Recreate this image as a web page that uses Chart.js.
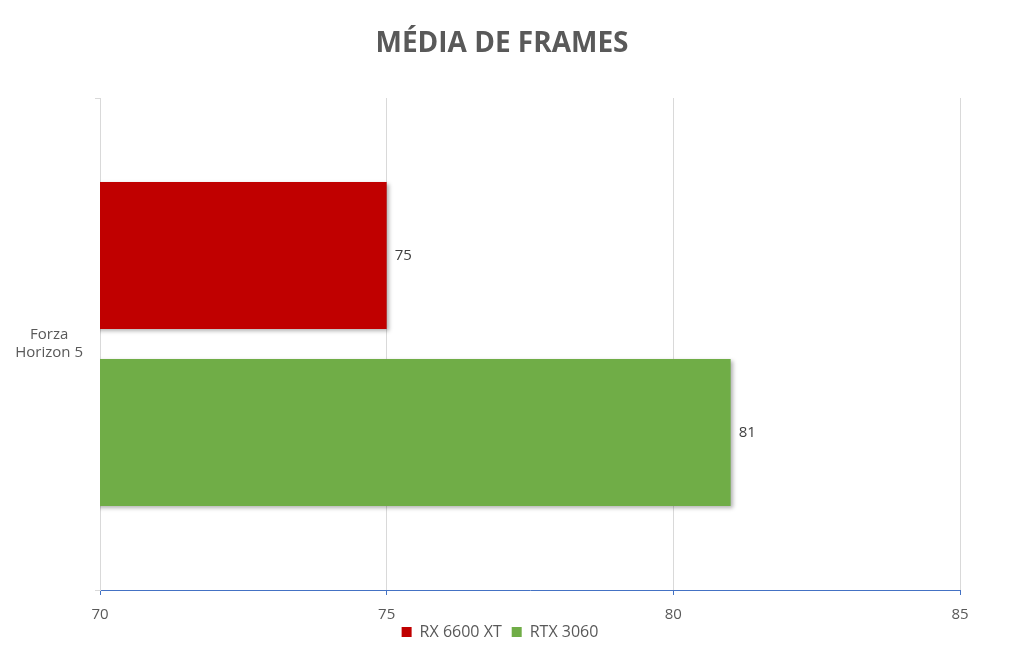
<!DOCTYPE html>
<html>
<head>
<meta charset="utf-8">
<script src="https://cdn.jsdelivr.net/npm/chart.js@4/dist/chart.umd.min.js"></script>
<style>
  html, body { margin: 0; padding: 0; background: #fff; }
  #wrap { width: 1024px; height: 664px; }
</style>
</head>
<body>
<div id="wrap"><canvas id="myChart"></canvas></div>
<script>
var categories = [["Forza", "Horizon 5"]];
var seriesNames = ["RX 6600 XT", "RTX 3060"];
var rxValues = [75];
var rtxValues = [81];
var barColors = ["#C00000", "#70AD47"];
var xTicks = [70, 75, 80, 85];
var chartTitle = "MÉDIA DE FRAMES";

// title drawn by hand so it sits where the original does
const topTitle = {
  id: "topTitle",
  afterDraw(chart) {
    const ctx = chart.ctx;
    ctx.save();
    ctx.font = "bold 28px 'Open Sans'";
    ctx.fillStyle = "#595959";
    ctx.textAlign = "center";
    ctx.textBaseline = "middle";
    ctx.fillText(chartTitle, 502, 44);
    ctx.restore();
  }
};

// nudge the legend right and up, like the original
const legendShift = {
  id: "legendShift",
  afterLayout(chart) {
    chart.legend.left += 20;
    chart.legend.right += 20;
    chart.legend.top -= 12;
    chart.legend.bottom -= 12;
  }
};

// labels at the end of each bar
const valueLabels = {
  id: "valueLabels",
  afterDatasetsDraw(chart) {
    const ctx = chart.ctx;
    ctx.save();
    ctx.font = "15px 'Open Sans'";
    ctx.fillStyle = "#404040";
    ctx.textBaseline = "middle";
    chart.data.datasets.forEach((ds, i) => {
      chart.getDatasetMeta(i).data.forEach((bar, j) => {
        ctx.fillText(ds.data[j], bar.x + 8, bar.y);
      });
    });
    ctx.restore();
  }
};

// soft shadow under the bars
const barShadow = {
  id: "barShadow",
  beforeDatasetsDraw(chart) {
    const ctx = chart.ctx;
    ctx.save();
    ctx.shadowColor = "rgba(0,0,0,0.3)";
    ctx.shadowBlur = 4;
    ctx.shadowOffsetX = 2;
    ctx.shadowOffsetY = 2;
  },
  afterDatasetsDraw(chart) {
    chart.ctx.restore();
  }
};

new Chart("myChart", {
  type: "bar",
  data: {
    labels: categories,
    datasets: [{
      label: seriesNames[0],
      data: rxValues,
      backgroundColor: barColors[0]
    }, {
      label: seriesNames[1],
      data: rtxValues,
      backgroundColor: barColors[1]
    }]
  },
  options: {
    indexAxis: "y",
    responsive: true,
    maintainAspectRatio: false,
    animation: false,
    layout: { padding: { left: 0, right: 64, top: 98, bottom: 2 } },
    datasets: { bar: { categoryPercentage: 0.72, barPercentage: 0.83 } },
    plugins: {
      title: { display: false },
      legend: {
        position: "bottom",
        labels: {
          color: "#595959",
          font: { family: "'Open Sans'", size: 16 },
          boxWidth: 10,
          boxHeight: 10,
          padding: 10
        }
      },
      tooltip: { enabled: false }
    },
    scales: {
      x: {
        min: 70,
        max: 85,
        afterBuildTicks(scale) {
          scale.ticks = xTicks.map(v => ({ value: v }));
        },
        afterFit(scale) { scale.height = 36; },
        grid: { color: "#d9d9d9", tickColor: "#4472C4", tickLength: 5 },
        border: { color: "#4472C4" },
        ticks: {
          color: "#595959",
          font: { family: "'Open Sans'", size: 15 },
          padding: 11
        }
      },
      y: {
        afterFit(scale) { scale.width = 100; },
        grid: { drawOnChartArea: false, tickColor: "#d9d9d9", tickLength: 5 },
        border: { color: "#d9d9d9" },
        ticks: {
          color: "#595959",
          font: { family: "'Open Sans'", size: 15 },
          crossAlign: "center",
          padding: 12
        }
      }
    }
  },
  plugins: [barShadow, valueLabels, topTitle, legendShift]
});
</script>
</body>
</html>
